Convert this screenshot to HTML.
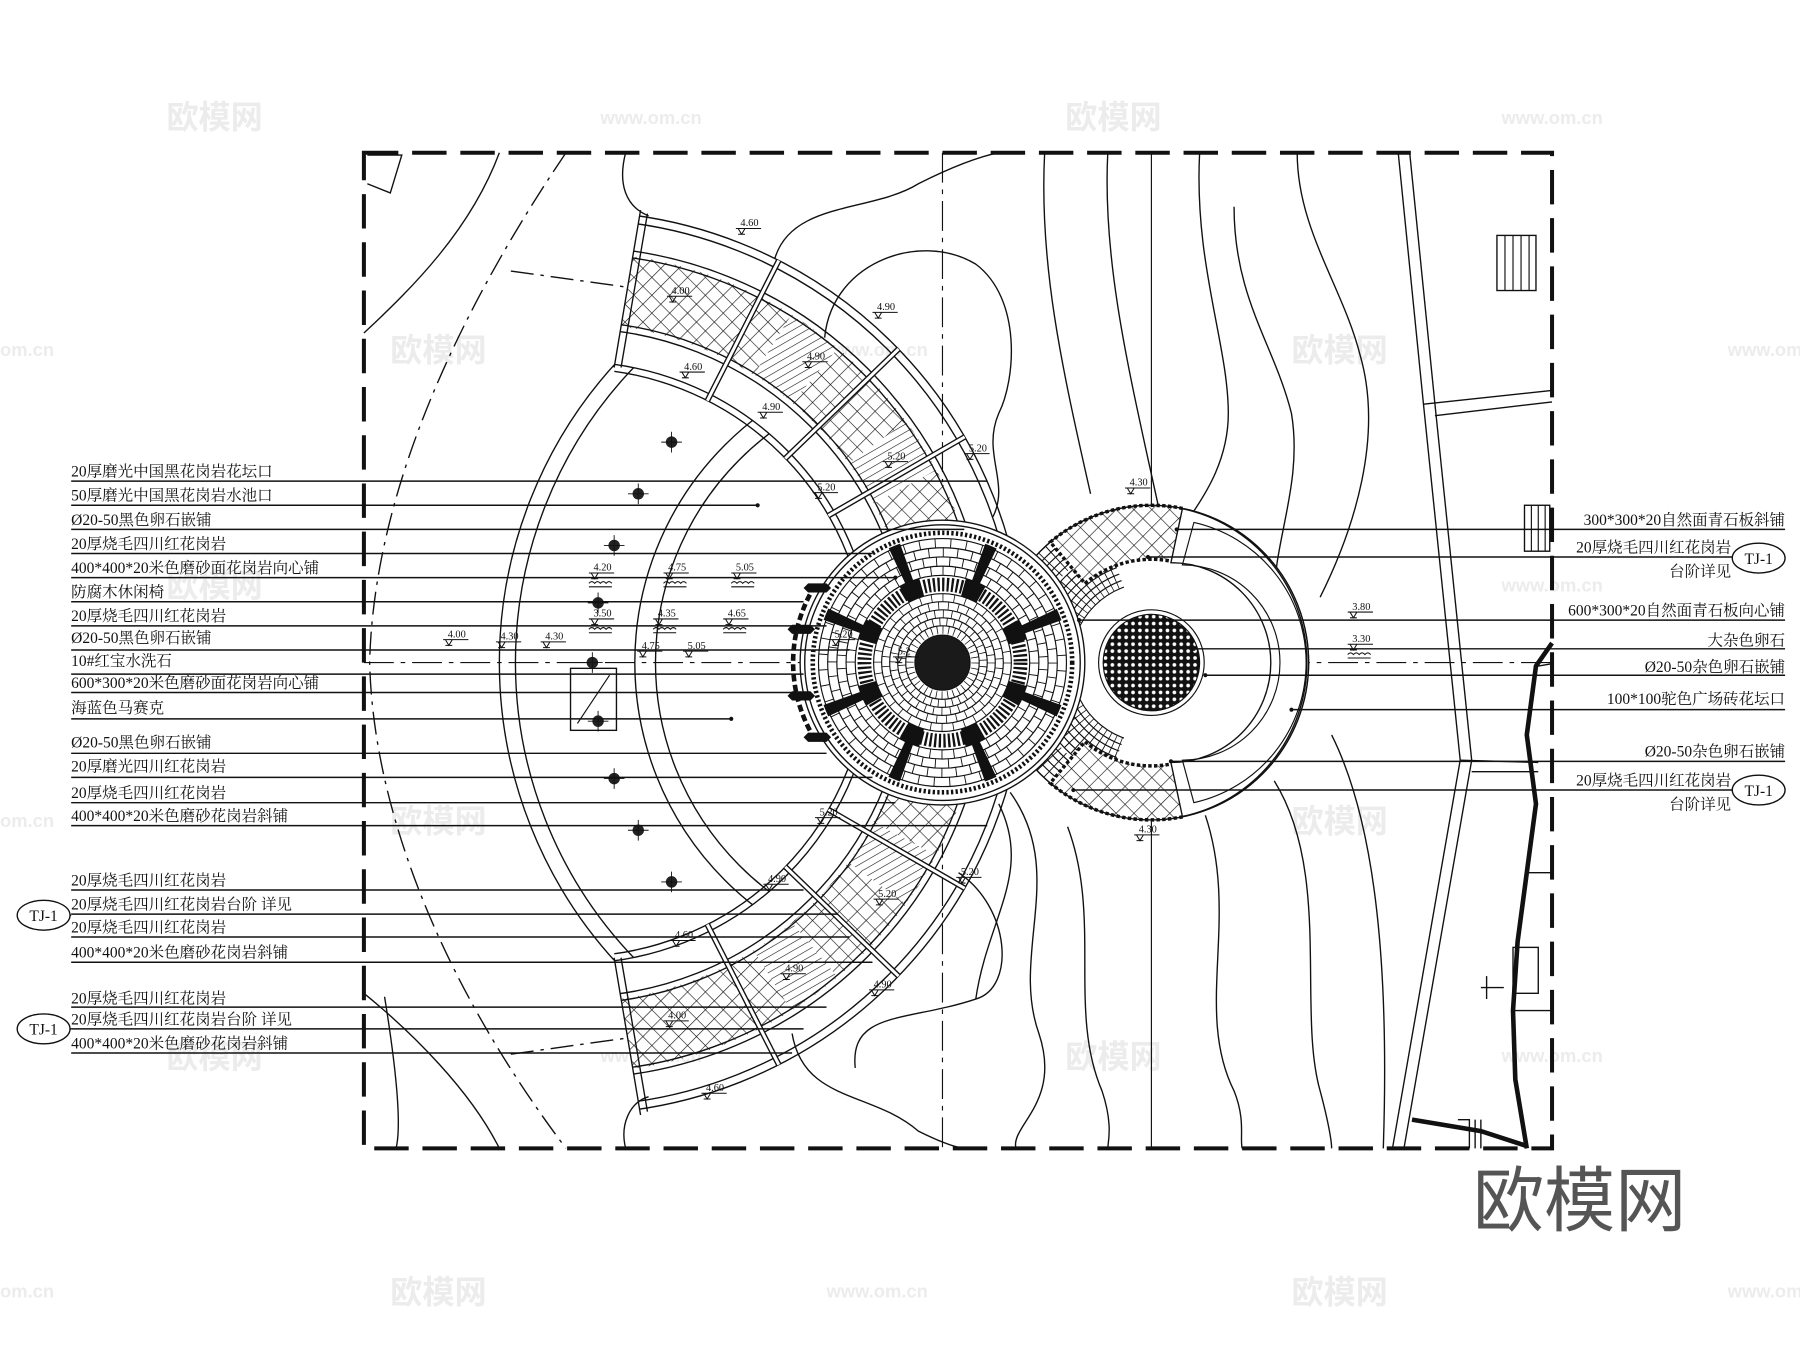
<!DOCTYPE html>
<html><head><meta charset="utf-8">
<style>
html,body{margin:0;padding:0;background:#fff;}
svg{display:block;}
text{font-family:"Liberation Serif","Noto Serif CJK SC",serif;fill:#111;}
.lb text{font-size:13.5px;}
.el text{font-size:9px;}
.wm text{font-family:"Liberation Sans","Noto Sans CJK SC",sans-serif;fill:#ececec;font-weight:bold;}
</style></head>
<body>
<svg width="1800" height="1347" viewBox="0 0 1568 1173" preserveAspectRatio="none" xmlns="http://www.w3.org/2000/svg" xmlns:xlink="http://www.w3.org/1999/xlink">
<defs>
<pattern id="hx" width="11" height="11" patternUnits="userSpaceOnUse" patternTransform="rotate(45)">
<rect width="11" height="11" fill="#fff"/>
<path d="M0 0H11M0 0V11" stroke="#111" stroke-width="1.1"/>
</pattern>
<pattern id="st" width="6" height="6" patternUnits="userSpaceOnUse" patternTransform="rotate(-30)">
<rect width="6" height="6" fill="#fff"/>
<path d="M0 0H6" stroke="#111" stroke-width="1"/>
</pattern>
<pattern id="dots" width="6" height="6" patternUnits="userSpaceOnUse">
<rect width="6" height="6" fill="#111"/>
<circle cx="3" cy="3" r="1.6" fill="#fff"/>
</pattern>
<clipPath id="fan"><polygon points="558,183 900,140 900,1010 558,971 535,834 535,320"/></clipPath>
<clipPath id="lens"><circle cx="500" cy="577" r="262"/></clipPath>
<clipPath id="c2l"><polygon points="1003,577 934.6,765 700,765 700,389 934.6,389"/></clipPath>
<g id="mk"><path d="M-12,2h22M-10,2l3,5l3,-5M-10,7h6" stroke="#111" fill="none" stroke-width="0.9"/></g>
<path id="wv" d="M-12,0 q2.5,-3 5,0 q2.5,-3 5,0 q2.5,-3 5,0 q2.5,-3 5,0 M-12,3h20" stroke="#111" fill="none" stroke-width="0.9"/>
<g id="lamp"><circle r="5" fill="#222"/><path d="M-9,0H9M0,-9V9" stroke="#111" stroke-width="0.8"/></g>
</defs>

<g class="wm">
<text x="145" y="112" font-size="28">欧模网</text>
<text x="523" y="108" font-size="16">www.om.cn</text>
<text x="928" y="112" font-size="28">欧模网</text>
<text x="1308" y="108" font-size="16">www.om.cn</text>
<text x="340" y="315" font-size="28">欧模网</text>
<text x="720" y="310" font-size="16">www.om.cn</text>
<text x="1125" y="315" font-size="28">欧模网</text>
<text x="0" y="310" font-size="16">om.cn</text>
<text x="1505" y="310" font-size="16">www.om</text>
<text x="145" y="520" font-size="28">欧模网</text>
<text x="928" y="520" font-size="28">欧模网</text>
<text x="1308" y="515" font-size="16">www.om.cn</text>
<text x="340" y="725" font-size="28">欧模网</text>
<text x="1125" y="725" font-size="28">欧模网</text>
<text x="0" y="720" font-size="16">om.cn</text>
<text x="145" y="930" font-size="28">欧模网</text>
<text x="928" y="930" font-size="28">欧模网</text>
<text x="523" y="925" font-size="16">www.om.cn</text>
<text x="1308" y="925" font-size="16">www.om.cn</text>
<text x="340" y="1135" font-size="28">欧模网</text>
<text x="720" y="1130" font-size="16">www.om.cn</text>
<text x="1125" y="1135" font-size="28">欧模网</text>
<text x="0" y="1130" font-size="16">om.cn</text>
<text x="1505" y="1130" font-size="16">www.om</text>
</g>

<g fill="none" stroke="#111" stroke-width="1.2">
<line x1="317" y1="577" x2="1352" y2="577" stroke-width="1" stroke-dasharray="26 6 4 6"/>
<line x1="821" y1="133" x2="821" y2="1000" stroke-width="1" stroke-dasharray="26 6 4 6"/>
<line x1="1003" y1="133" x2="1003" y2="1000" stroke-width="1"/>

<path d="M493,133 C 380,300 325,450 322,577 C 325,700 380,850 493,1000" stroke-dasharray="20 6 3 6"/>
<path d="M435,133 C 410,200 360,250 317,290"/>
<path d="M317,865 C 360,900 410,950 435,1000"/>
<path d="M335,868 C 345,930 350,980 345,1000"/>
<path d="M445,236 L553,251" stroke-dasharray="20 6 3 6"/>
<path d="M445,918 L553,903" stroke-dasharray="20 6 3 6"/>
<path d="M320,135 L350,135 L340,168 L320,160"/>

<path d="M545,133 C 538,160 545,180 565,188"/>
<path d="M675,225 C 690,175 760,185 800,160 C 840,140 860,135 870,133"/>
<path d="M718,300 C 720,230 800,200 850,230 C 890,260 885,330 870,360 C 855,395 880,420 865,450"/>
<path d="M545,1000 C 540,980 548,960 565,955"/>
<path d="M690,900 C 700,960 760,950 800,985 C 830,1000 840,1000 840,1000"/>
<path d="M835,760 C 880,790 885,860 850,870 C 790,890 740,880 745,930"/>
<path d="M910,133 C 905,230 925,320 950,430"/>
<path d="M965,133 C 960,230 985,330 1010,445"/>
<path d="M1075,180 C 1075,260 1110,300 1125,360 C 1135,420 1110,470 1110,520"/>
<path d="M1130,133 C 1130,200 1170,250 1185,310 C 1205,380 1180,460 1150,520"/>
<path d="M1045,133 C 1040,230 1070,300 1070,360 C 1070,400 1050,430 1040,445"/>
<path d="M880,690 C 930,760 880,830 905,900 C 925,960 880,980 885,1000"/>
<path d="M930,720 C 960,800 930,880 960,950 C 970,980 965,995 965,1000"/>
<path d="M1050,710 C 1080,800 1040,880 1075,950 C 1085,975 1080,990 1082,1000"/>
<path d="M1110,680 C 1160,760 1130,880 1150,950 C 1158,980 1160,995 1160,1000"/>
<path d="M1160,640 C 1200,720 1210,850 1205,1000"/>
<path d="M870,700 C 900,760 860,800 850,870"/>

<path d="M1218,133 L1240,352 L1272,662 L1213,1000"/>
<path d="M1228,133 L1250,352 L1282,662 L1223,1000"/>
<path d="M1240,352 L1352,340"/><path d="M1250,362 L1352,350"/>
<path d="M1272,662 L1340,664"/><path d="M1282,672 L1340,672"/>
<rect x="1304" y="205" width="34" height="48"/>
<path d="M1311,205V253M1318,205V253M1325,205V253M1332,205V253" stroke-width="1"/>
<rect x="1328" y="440" width="22" height="40"/>
<path d="M1334,440V480M1340,440V480M1346,440V480" stroke-width="1"/>
<path d="M1352,560 L1338,580 L1330,640 L1338,700 L1330,760 L1322,820 L1318,880 L1320,940 L1330,1000" stroke-width="4"/>
<path d="M1340,580 L1352,578 M1330,760 L1352,760 M1318,880 L1352,880"/>
<rect x="1318" y="825" width="22" height="40"/>
<path d="M1230,975 L1290,985 L1330,998" stroke-width="4"/>
<path d="M1290,860 L1310,860 M1295,850 L1295,870"/>
<path d="M1270,975h10v25M1285,975v25M1290,975v25"/>

<g clip-path="url(#fan)">
<circle cx="500" cy="577" r="326.5" stroke="url(#hx)" stroke-width="62"/>
<circle cx="500" cy="577" r="326.5" stroke="url(#st)" stroke-width="61" stroke-dasharray="45.6 79.8 45.6 1390.3 45.6 79.8 45.6 319.1" stroke-dashoffset="-159.6"/>
<circle cx="500" cy="577" r="393"/><circle cx="500" cy="577" r="386"/>
<circle cx="500" cy="577" r="362"/><circle cx="500" cy="577" r="356"/>
<circle cx="500" cy="577" r="297"/><circle cx="500" cy="577" r="291"/>
<circle cx="500" cy="577" r="262"/><circle cx="500" cy="577" r="256"/>
<g stroke-width="5">
<path d="M721.7,705L840.3,773.5M721.7,449L840.3,380.5M684.1,754.8L782.7,850M684.1,399.2L782.7,304M616.2,805.1L678.4,927.2M616.2,348.9L678.4,226.8"/>
</g>
<g stroke-width="2.6" stroke="#fff">
<path d="M721.7,705L840.3,773.5M721.7,449L840.3,380.5M684.1,754.8L782.7,850M684.1,399.2L782.7,304M616.2,805.1L678.4,927.2M616.2,348.9L678.4,226.8"/>
</g>
</g>
<path d="M558,183 L535,320 M564,186 L541,320 M558,971 L535,834 M564,968 L541,834"/>

<g clip-path="url(#lens)">
<circle cx="821" cy="577" r="386"/><circle cx="821" cy="577" r="372"/>
<circle cx="821" cy="577" r="268"/><circle cx="821" cy="577" r="250"/>
</g>
<rect x="497" y="582" width="40" height="54" fill="#fff"/>
<path d="M503,630 L531,588" stroke-width="1"/>
</g>
<use xlink:href="#lamp" x="585" y="385"/><use xlink:href="#lamp" x="556" y="430"/>
<use xlink:href="#lamp" x="535" y="475"/><use xlink:href="#lamp" x="521" y="525"/>
<use xlink:href="#lamp" x="516" y="577"/><use xlink:href="#lamp" x="521" y="628"/>
<use xlink:href="#lamp" x="535" y="678"/><use xlink:href="#lamp" x="556" y="723"/>
<use xlink:href="#lamp" x="585" y="768"/>

<!-- circle C2 (drawn first, under C1) -->
<g fill="none" stroke="#111" stroke-width="1">
<circle cx="1003" cy="577" r="137" fill="#fff"/>
<g clip-path="url(#c2l)">
<circle cx="1003" cy="577" r="70"/><circle cx="1003" cy="577" r="76"/><circle cx="1003" cy="577" r="82"/>
<circle cx="1003" cy="577" r="88"/><circle cx="1003" cy="577" r="94"/><circle cx="1003" cy="577" r="100"/>
<circle cx="1003" cy="577" r="106"/><circle cx="1003" cy="577" r="112"/><circle cx="1003" cy="577" r="118"/>
<circle cx="1003" cy="577" r="124"/><circle cx="1003" cy="577" r="130"/>
<circle cx="1003" cy="577" r="122.5" stroke-width="29" stroke-dasharray="0.8 6.68"/>
<circle cx="1003" cy="577" r="88" stroke-width="36" stroke-dasharray="0.8 5.5"/>
</g>
<path d="M914.9,472.1 A137,137 0 0 1 1031.5,443 L1021.7,489 A90,90 0 0 0 945.1,508.1 Z" fill="url(#hx)" stroke-width="3" stroke-dasharray="3 2"/>
<path d="M914.9,681.9 A137,137 0 0 0 1031.5,711 L1021.7,665 A90,90 0 0 1 945.1,645.9 Z" fill="url(#hx)" stroke-width="3" stroke-dasharray="3 2"/>
<path d="M1030,443 A137,137 0 0 1 1030,711 L1020,664 A48,48 0 0 0 1020,490 Z" fill="#fff" stroke-width="1.2"/>
<path d="M1040,455 A125,125 0 0 1 1040,699 L1030,662 A52,52 0 0 0 1030,492 Z"/>
<circle cx="1003" cy="577" r="137" stroke-width="1.2"/>
<circle cx="1003" cy="577" r="46" fill="#fff"/>
<circle cx="1003" cy="577" r="42" fill="url(#dots)"/>
</g>

<!-- central circle C1 -->
<g fill="none" stroke="#111">
<circle cx="821" cy="577" r="124" fill="#fff" stroke-width="1.2"/>
<circle cx="821" cy="577" r="120" stroke-width="1.2"/>
<circle cx="821" cy="577" r="113" stroke-width="4" stroke-dasharray="2 2"/>
<circle cx="821" cy="577" r="108"/><circle cx="821" cy="577" r="100"/>
<circle cx="821" cy="577" r="92"/><circle cx="821" cy="577" r="84"/><circle cx="821" cy="577" r="76"/>
<circle cx="821" cy="577" r="80" stroke-width="8" stroke-dasharray="0.8 9.67"/>
<circle cx="821" cy="577" r="88" stroke-width="8" stroke-dasharray="0.8 10.72" stroke-dashoffset="5.76"/>
<circle cx="821" cy="577" r="96" stroke-width="8" stroke-dasharray="0.8 11.77"/>
<circle cx="821" cy="577" r="104" stroke-width="8" stroke-dasharray="0.8 12.81" stroke-dashoffset="6.8"/>
<circle cx="821" cy="577" r="92.5" stroke-width="35" stroke-dasharray="9 63.65" stroke-dashoffset="-31.8"/>
<circle cx="821" cy="577" r="68" stroke-width="12" stroke-dasharray="2 2"/>
<circle cx="821" cy="577" r="68" stroke-width="16" stroke-dasharray="16.6 36.8" stroke-dashoffset="-18.4"/>
<circle cx="821" cy="577" r="60"/><circle cx="821" cy="577" r="53"/><circle cx="821" cy="577" r="46"/>
<circle cx="821" cy="577" r="39"/><circle cx="821" cy="577" r="32"/>
<circle cx="821" cy="577" r="28.5" stroke-width="7" stroke-dasharray="0.7 4.27"/>
<circle cx="821" cy="577" r="35.5" stroke-width="7" stroke-dasharray="0.7 5.5" stroke-dashoffset="3"/>
<circle cx="821" cy="577" r="42.5" stroke-width="7" stroke-dasharray="0.7 6.72"/>
<circle cx="821" cy="577" r="49.5" stroke-width="7" stroke-dasharray="0.7 7.94" stroke-dashoffset="4"/>
<circle cx="821" cy="577" r="56.5" stroke-width="7" stroke-dasharray="0.7 9.16"/>
<circle cx="821" cy="577" r="24" fill="#1a1a1a"/>
<path d="M710,510 A127,127 0 0 0 710,644" stroke-width="4" stroke-dasharray="6 3"/>
</g>
<g fill="#111">
<path d="M704,508h16l4,4l-4,4h-16l-4,-4z"/>
<path d="M690,544h16l4,4l-4,4h-16l-4,-4z"/>
<path d="M690,602h16l4,4l-4,4h-16l-4,-4z"/>
<path d="M704,638h16l4,4l-4,4h-16l-4,-4z"/>
</g>

<rect x="317" y="133" width="1035" height="867" fill="none" stroke="#111" stroke-width="3.5" stroke-dasharray="30 12"/>

<g stroke="#111" stroke-width="1.3">
<path d="M62,419H860M62,440H660M62,461H840M62,482H760M62,503H780M62,524H700M62,545H720M62,566H740M62,587H700M62,603H700M62,626H637M62,656H720M62,677H760M62,699H780M62,719H860M62,775H700M62,796H730M62,816H740M62,838H760M62,877H720M62,896H700M62,917H690"/>
<path d="M1025,461H1555M1000,485H1510M940,540H1555M1040,565H1555M1050,588H1555M1125,618H1555M1020,663H1555M935,688H1510M15,797H62M15,896H62"/>
</g>
<g fill="#111">
<circle cx="660" cy="440" r="1.8"/><circle cx="637" cy="626" r="1.8"/><circle cx="780" cy="503" r="1.8"/>
<circle cx="1025" cy="461" r="1.8"/><circle cx="1000" cy="485" r="1.8"/><circle cx="940" cy="540" r="1.8"/>
<circle cx="1040" cy="565" r="1.8"/><circle cx="1050" cy="588" r="1.8"/><circle cx="1125" cy="618" r="1.8"/>
<circle cx="1020" cy="663" r="1.8"/><circle cx="935" cy="688" r="1.8"/>
</g>

<g class="lb">
<text x="62" y="415">20厚磨光中国黑花岗岩花坛口</text>
<text x="62" y="436">50厚磨光中国黑花岗岩水池口</text>
<text x="62" y="457">Ø20-50黑色卵石嵌铺</text>
<text x="62" y="478">20厚烧毛四川红花岗岩</text>
<text x="62" y="499">400*400*20米色磨砂面花岗岩向心铺</text>
<text x="62" y="520">防腐木休闲椅</text>
<text x="62" y="541">20厚烧毛四川红花岗岩</text>
<text x="62" y="560">Ø20-50黑色卵石嵌铺</text>
<text x="62" y="580">10#红宝水洗石</text>
<text x="62" y="599">600*300*20米色磨砂面花岗岩向心铺</text>
<text x="62" y="621">海蓝色马赛克</text>
<text x="62" y="651">Ø20-50黑色卵石嵌铺</text>
<text x="62" y="672">20厚磨光四川红花岗岩</text>
<text x="62" y="695">20厚烧毛四川红花岗岩</text>
<text x="62" y="715">400*400*20米色磨砂花岗岩斜铺</text>
<text x="62" y="771">20厚烧毛四川红花岗岩</text>
<text x="62" y="792">20厚烧毛四川红花岗岩台阶 详见</text>
<text x="62" y="812">20厚烧毛四川红花岗岩</text>
<text x="62" y="834">400*400*20米色磨砂花岗岩斜铺</text>
<text x="62" y="874">20厚烧毛四川红花岗岩</text>
<text x="62" y="892">20厚烧毛四川红花岗岩台阶 详见</text>
<text x="62" y="913">400*400*20米色磨砂花岗岩斜铺</text>
</g>
<g class="lb" text-anchor="end">
<text x="1555" y="457">300*300*20自然面青石板斜铺</text>
<text x="1508" y="481">20厚烧毛四川红花岗岩</text>
<text x="1508" y="502">台阶详见</text>
<text x="1555" y="536">600*300*20自然面青石板向心铺</text>
<text x="1555" y="562">大杂色卵石</text>
<text x="1555" y="585">Ø20-50杂色卵石嵌铺</text>
<text x="1555" y="613">100*100驼色广场砖花坛口</text>
<text x="1555" y="659">Ø20-50杂色卵石嵌铺</text>
<text x="1508" y="684">20厚烧毛四川红花岗岩</text>
<text x="1508" y="705">台阶详见</text>
</g>
<g fill="#fff" stroke="#111" stroke-width="1.2">
<ellipse cx="1532" cy="486" rx="23" ry="13"/>
<ellipse cx="1532" cy="688" rx="23" ry="13"/>
<ellipse cx="38" cy="797" rx="23" ry="13"/>
<ellipse cx="38" cy="896" rx="23" ry="13"/>
</g>
<g class="lb" text-anchor="middle">
<text x="1532" y="491">TJ-1</text>
<text x="1532" y="693">TJ-1</text>
<text x="38" y="802">TJ-1</text>
<text x="38" y="901">TJ-1</text>
</g>

<g class="el">
<text x="645" y="197">4.60</text><use xlink:href="#mk" x="653" y="197"/>
<text x="764" y="270">4.90</text><use xlink:href="#mk" x="772" y="270"/>
<text x="585" y="256">4.00</text><use xlink:href="#mk" x="593" y="256"/>
<text x="596" y="322">4.60</text><use xlink:href="#mk" x="604" y="322"/>
<text x="664" y="357">4.90</text><use xlink:href="#mk" x="672" y="357"/>
<text x="703" y="313">4.90</text><use xlink:href="#mk" x="711" y="313"/>
<text x="844" y="393">5.20</text><use xlink:href="#mk" x="852" y="393"/>
<text x="773" y="400">5.20</text><use xlink:href="#mk" x="781" y="400"/>
<text x="712" y="427">5.20</text><use xlink:href="#mk" x="720" y="427"/>
<text x="517" y="497">4.20</text><use xlink:href="#mk" x="525" y="497"/>
<text x="582" y="497">4.75</text><use xlink:href="#mk" x="590" y="497"/>
<text x="641" y="497">5.05</text><use xlink:href="#mk" x="649" y="497"/>
<text x="517" y="537">3.50</text><use xlink:href="#mk" x="525" y="537"/>
<text x="573" y="537">4.35</text><use xlink:href="#mk" x="581" y="537"/>
<text x="634" y="537">4.65</text><use xlink:href="#mk" x="642" y="537"/>
<text x="390" y="555">4.00</text><use xlink:href="#mk" x="398" y="555"/>
<text x="436" y="557">4.30</text><use xlink:href="#mk" x="444" y="557"/>
<text x="475" y="557">4.30</text><use xlink:href="#mk" x="483" y="557"/>
<text x="559" y="565">4.75</text><use xlink:href="#mk" x="567" y="565"/>
<text x="599" y="565">5.05</text><use xlink:href="#mk" x="607" y="565"/>
<text x="984" y="423">4.30</text><use xlink:href="#mk" x="992" y="423"/>
<text x="1178" y="531">3.80</text><use xlink:href="#mk" x="1186" y="531"/>
<text x="1178" y="559">3.30</text><use xlink:href="#mk" x="1186" y="559"/>
<text x="992" y="725">4.30</text><use xlink:href="#mk" x="1000" y="725"/>
<text x="714" y="710">5.20</text><use xlink:href="#mk" x="722" y="710"/>
<text x="837" y="762">5.20</text><use xlink:href="#mk" x="845" y="762"/>
<text x="669" y="768">4.90</text><use xlink:href="#mk" x="677" y="768"/>
<text x="765" y="781">5.20</text><use xlink:href="#mk" x="773" y="781"/>
<text x="588" y="817">4.60</text><use xlink:href="#mk" x="596" y="817"/>
<text x="684" y="846">4.90</text><use xlink:href="#mk" x="692" y="846"/>
<text x="761" y="860">4.90</text><use xlink:href="#mk" x="769" y="860"/>
<text x="582" y="887">4.00</text><use xlink:href="#mk" x="590" y="887"/>
<text x="615" y="950">4.60</text><use xlink:href="#mk" x="623" y="950"/>
<text x="727" y="555">5.20</text><use xlink:href="#mk" x="735" y="555"/>
<text x="782" y="570">5.2</text><use xlink:href="#mk" x="790" y="570"/>
</g>
<use xlink:href="#wv" x="525" y="508"/><use xlink:href="#wv" x="590" y="508"/><use xlink:href="#wv" x="649" y="508"/>
<use xlink:href="#wv" x="525" y="548"/><use xlink:href="#wv" x="581" y="548"/><use xlink:href="#wv" x="642" y="548"/>
<use xlink:href="#wv" x="1186" y="570"/>

<text x="1283" y="1067" font-size="62" style="font-family:'Liberation Sans','Noto Sans CJK SC',sans-serif;fill:#555">欧模网</text>
</svg>
</body></html>
